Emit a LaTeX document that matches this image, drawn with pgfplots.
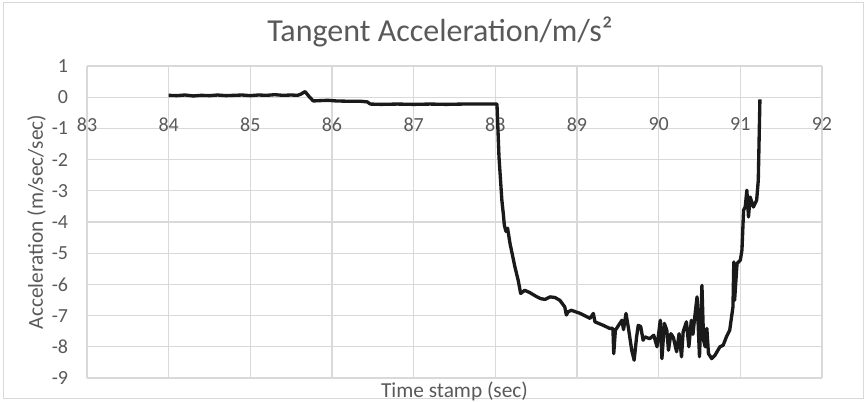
\documentclass[border=0pt]{standalone}
\usepackage{fontspec}
\setmainfont{Carlito}
\usepackage{pgfplots}
\pgfplotsset{compat=1.18}
\definecolor{txt}{HTML}{595959}
\definecolor{gridc}{HTML}{D9D9D9}
\definecolor{linec}{HTML}{1A1A1A}

\begin{document}
\begin{tikzpicture}
\useasboundingbox (-65.25pt,-18pt) rectangle (585.75pt,283.5pt);
\draw[gridc, line width=0.75pt] (-62.25pt,-15.75pt) rectangle (582pt,281.25pt);
\begin{axis}[
  scale only axis, width=551.25pt, height=234pt,
  xmin=83, xmax=92, ymin=-9, ymax=1,
  xtick={83,...,92}, ytick={-9,...,1},
  grid=major, grid style={gridc, line width=0.9pt},
  axis line style={draw=none},
  major tick length=0pt,
  /pgf/number format/assume math mode=true,
  ticklabel style={font=\fontsize{15}{18}\selectfont, text=txt, inner sep=0pt},
  xticklabel style={anchor=north, yshift=195.6pt},
  yticklabel style={anchor=east, xshift=-14pt},
  title={Tangent Acceleration/m/s²},
  title style={font=\fontsize{24}{28}\selectfont, text=txt, at={(rel axis cs:0.5,1)},
    anchor=base, yshift=12pt, xshift=-10.9pt, inner sep=0pt},
  xlabel={Time stamp (sec)},
  xlabel style={font=\fontsize{16}{19}\selectfont, text=txt, at={(axis description cs:0.5,0)},
    anchor=north, inner sep=0pt, yshift=-3pt},
]
\addplot[linec, line width=2.5pt, line join=round] coordinates {
(84.00,0.06) (84.10,0.05) (84.20,0.07) (84.30,0.04) (84.40,0.06) (84.50,0.05)
(84.60,0.07) (84.70,0.05) (84.80,0.06) (84.90,0.07) (85.00,0.05) (85.10,0.07)
(85.20,0.06) (85.30,0.08) (85.40,0.06) (85.50,0.07) (85.58,0.06) (85.62,0.10)
(85.67,0.18) (85.72,0.02) (85.77,-0.12) (85.85,-0.11) (85.95,-0.10) (86.05,-0.12)
(86.20,-0.13) (86.35,-0.13) (86.43,-0.15) (86.47,-0.22) (86.60,-0.23) (86.80,-0.22)
(87.00,-0.23) (87.20,-0.22) (87.40,-0.23) (87.60,-0.22) (87.80,-0.22) (88.02,-0.22)
(88.045,-1.92) (88.08,-3.30) (88.10,-3.80) (88.11,-4.10) (88.13,-4.30) (88.15,-4.20)
(88.18,-4.69) (88.24,-5.44) (88.28,-5.87) (88.31,-6.29) (88.36,-6.19) (88.42,-6.26)
(88.51,-6.40) (88.56,-6.46) (88.61,-6.48) (88.67,-6.40) (88.73,-6.42) (88.79,-6.51)
(88.85,-6.72) (88.87,-6.98) (88.89,-6.88) (88.93,-6.83) (89.04,-6.93) (89.16,-7.09)
(89.20,-6.93) (89.22,-7.20) (89.32,-7.31) (89.40,-7.41) (89.44,-7.41) (89.45,-8.22)
(89.47,-7.47) (89.51,-7.31) (89.55,-7.15) (89.57,-7.45) (89.60,-6.93) (89.63,-7.40)
(89.67,-8.11) (89.70,-8.43) (89.73,-7.68) (89.75,-7.31) (89.78,-7.35) (89.81,-7.79)
(89.83,-7.68) (89.89,-7.74) (89.94,-7.63) (89.98,-8.00) (90.02,-7.15) (90.04,-8.38)
(90.07,-7.25) (90.10,-7.47) (90.12,-8.11) (90.15,-7.58) (90.18,-7.70) (90.22,-8.16)
(90.25,-7.58) (90.28,-8.32) (90.30,-7.52) (90.34,-7.20) (90.37,-8.00) (90.40,-7.15)
(90.42,-7.60) (90.44,-7.09) (90.47,-6.40) (90.50,-8.32) (90.53,-6.03) (90.55,-7.79)
(90.57,-8.00) (90.59,-7.41) (90.61,-8.22) (90.65,-8.38) (90.69,-8.27) (90.75,-8.00)
(90.79,-7.95) (90.83,-7.68) (90.87,-7.47) (90.89,-7.09) (90.91,-6.72) (90.92,-5.28)
(90.93,-6.51) (90.96,-5.33) (91.00,-5.22) (91.02,-4.90) (91.04,-3.62) (91.06,-3.52)
(91.08,-2.98) (91.10,-3.84) (91.12,-3.20) (91.16,-3.52) (91.20,-3.30) (91.22,-2.66)
(91.24,-0.07)
};
\end{axis}
% vertical axis title, set beside the plot area
\node[rotate=90, anchor=north, inner sep=0pt, text=txt, font=\fontsize{16}{19}\selectfont]
  at (-45pt,117pt) {Acceleration (m/sec/sec)};
\end{tikzpicture}
\end{document}
